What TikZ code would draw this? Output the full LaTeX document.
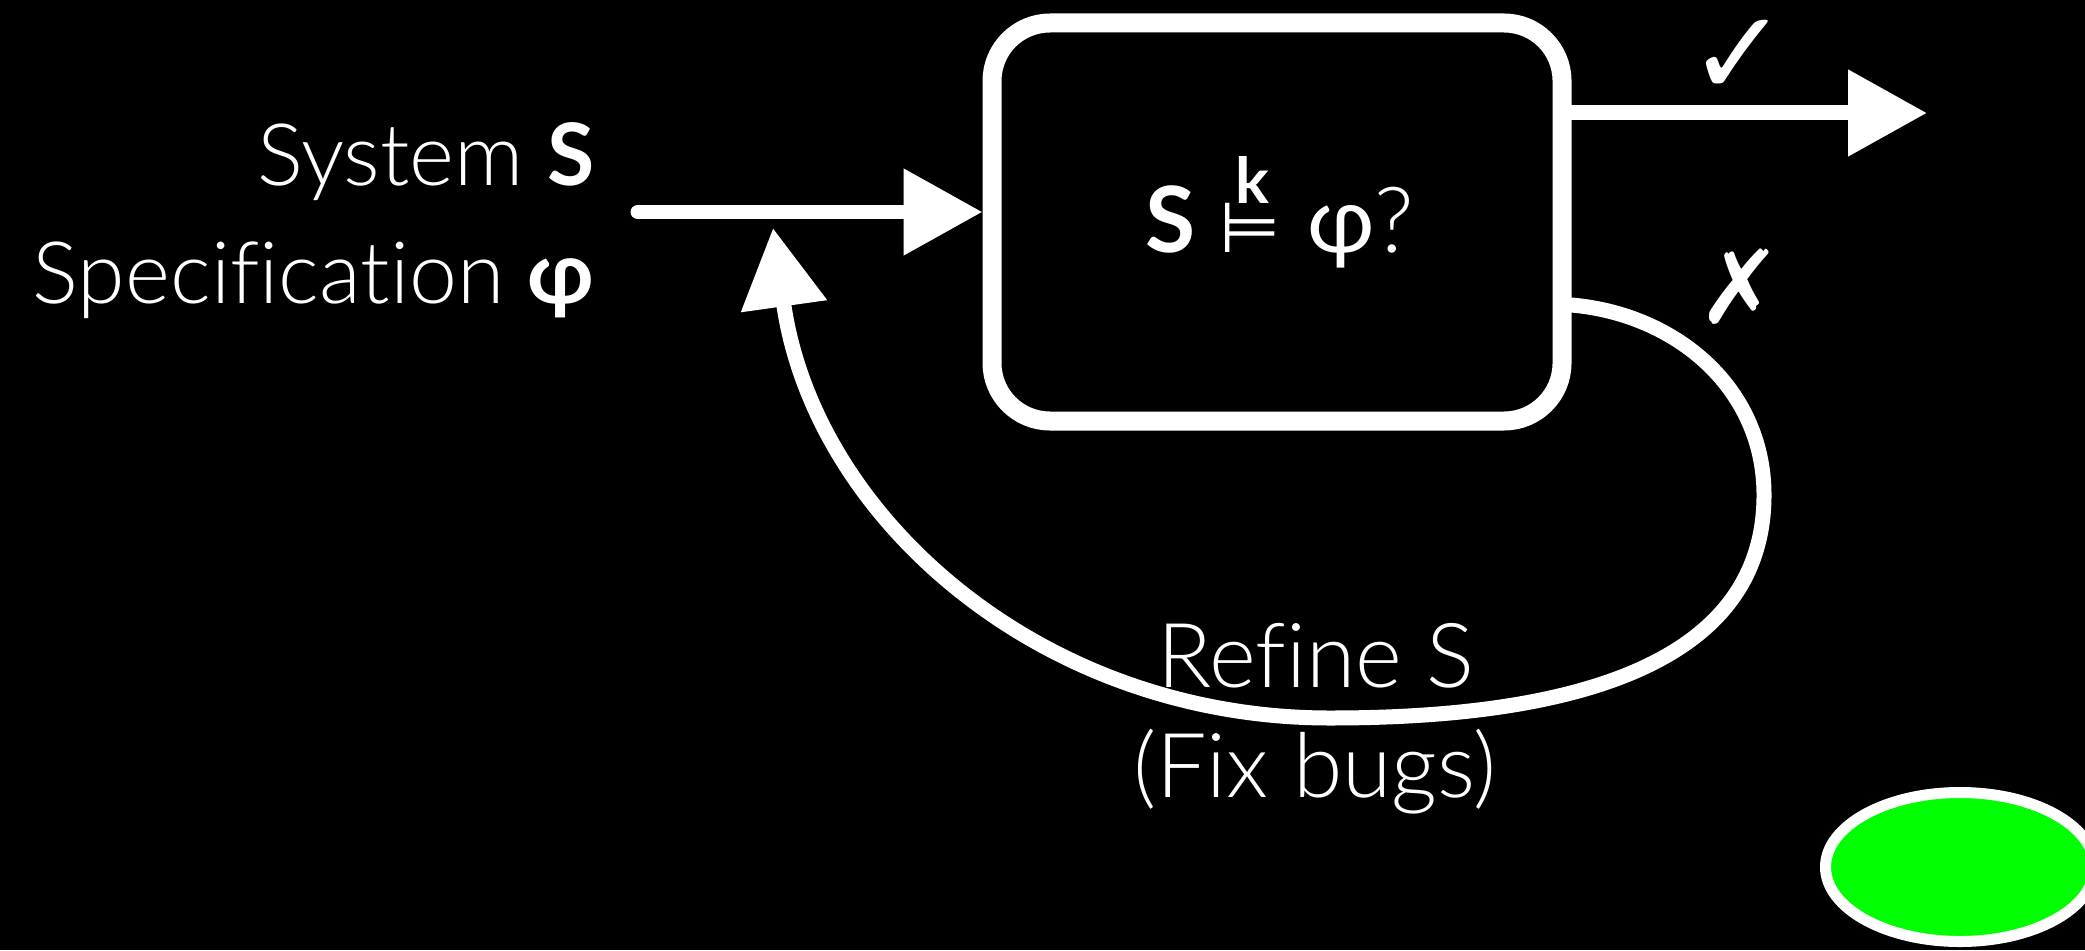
\documentclass[tikz,border=0pt]{standalone}
\usepackage{fontspec}
\setmainfont{Lato}[Ligatures=NoCommon, UprightFont=* Light, BoldFont=* Bold]
\newfontfamily\latoreg{Lato}[Ligatures=NoCommon]
\newfontfamily\symfont{DejaVu Sans}
\usetikzlibrary{arrows.meta,shapes.geometric}
\definecolor{lampgreen}{RGB}{0,255,0}

\begin{document}
\begin{tikzpicture}[
  every node/.style={text=white, inner sep=0pt},
  wire/.style={draw=white, line width=0.15cm, line cap=round},
  bigtip/.style={-{Triangle[length=0.79cm,width=0.83cm]}},
  box/.style={draw=white, line width=0.19cm, rounded corners=0.58cm,
              minimum width=5.70cm, minimum height=3.98cm},
  sidetext/.style={anchor=base east, font=\fontsize{24.5}{29}\selectfont},
  looptext/.style={anchor=base, font=\fontsize{25.5}{30}\selectfont},
  verdict/.style={font=\symfont\fontsize{#1}{#1}\selectfont},
  lampstyle/.style={ellipse, draw=white, line width=0.11cm, fill=lampgreen,
                    minimum width=2.69cm, minimum height=1.49cm}
]
% canvas
\fill[black] (0,0) rectangle (20.85,-9.5);
\useasboundingbox (0,0) rectangle (20.85,-9.5);

% inputs
\node[sidetext] (sys) at (5.95,-1.85) {System \textbf{S}};
\node[sidetext] (spec) at (5.95,-3.03) {Specification \textbf{φ}};

% the model checker
\node[box] (check) at (12.77,-2.22) {};
\node[anchor=base west, font=\fontsize{26}{30}\selectfont] (query) at (11.45,-2.52)
  {{\bfseries S}\hspace{2.4mm}\rlap{\hspace{1.6mm}\raisebox{4.9mm}{\bfseries\fontsize{18}{18}\selectfont k}}{\symfont\fontsize{20}{20}\selectfont ⊨}\hspace{2.6mm}{\latoreg φ}?};

% connectors
\coordinate (src) at (6.38,-2.12);
\coordinate (done) at (19.27,-1.13);
\coordinate (fbout) at ([yshift=-0.83cm]check.east);
\coordinate (loopR) at (17.64,-4.95);
\coordinate (loopB) at (13.30,-7.18);
\coordinate (fbin) at (7.73,-2.28);

\draw[wire, bigtip] (src) -- (src -| check.west);
\draw[wire, bigtip] (check.east |- done) -- (done);
\draw[wire, bigtip] (fbout) to[out=-5,in=90] (loopR)
  to[out=-90,in=0] (loopB) to[out=180,in=-82] (fbin);

% outcomes
\node[verdict=34] (okmark) at (17.39,-0.58) {✓};
\node[verdict=29] (failmark) at (17.40,-2.87) {✗};

% refinement label
\node[looptext] (refine) at (13.16,-6.87) {Refine S};
\node[looptext] (fix) at (13.15,-7.97) {(Fix bugs)};

% status light
\node[lampstyle] (lamp) at (19.60,-8.67) {};
\end{tikzpicture}
\end{document}
